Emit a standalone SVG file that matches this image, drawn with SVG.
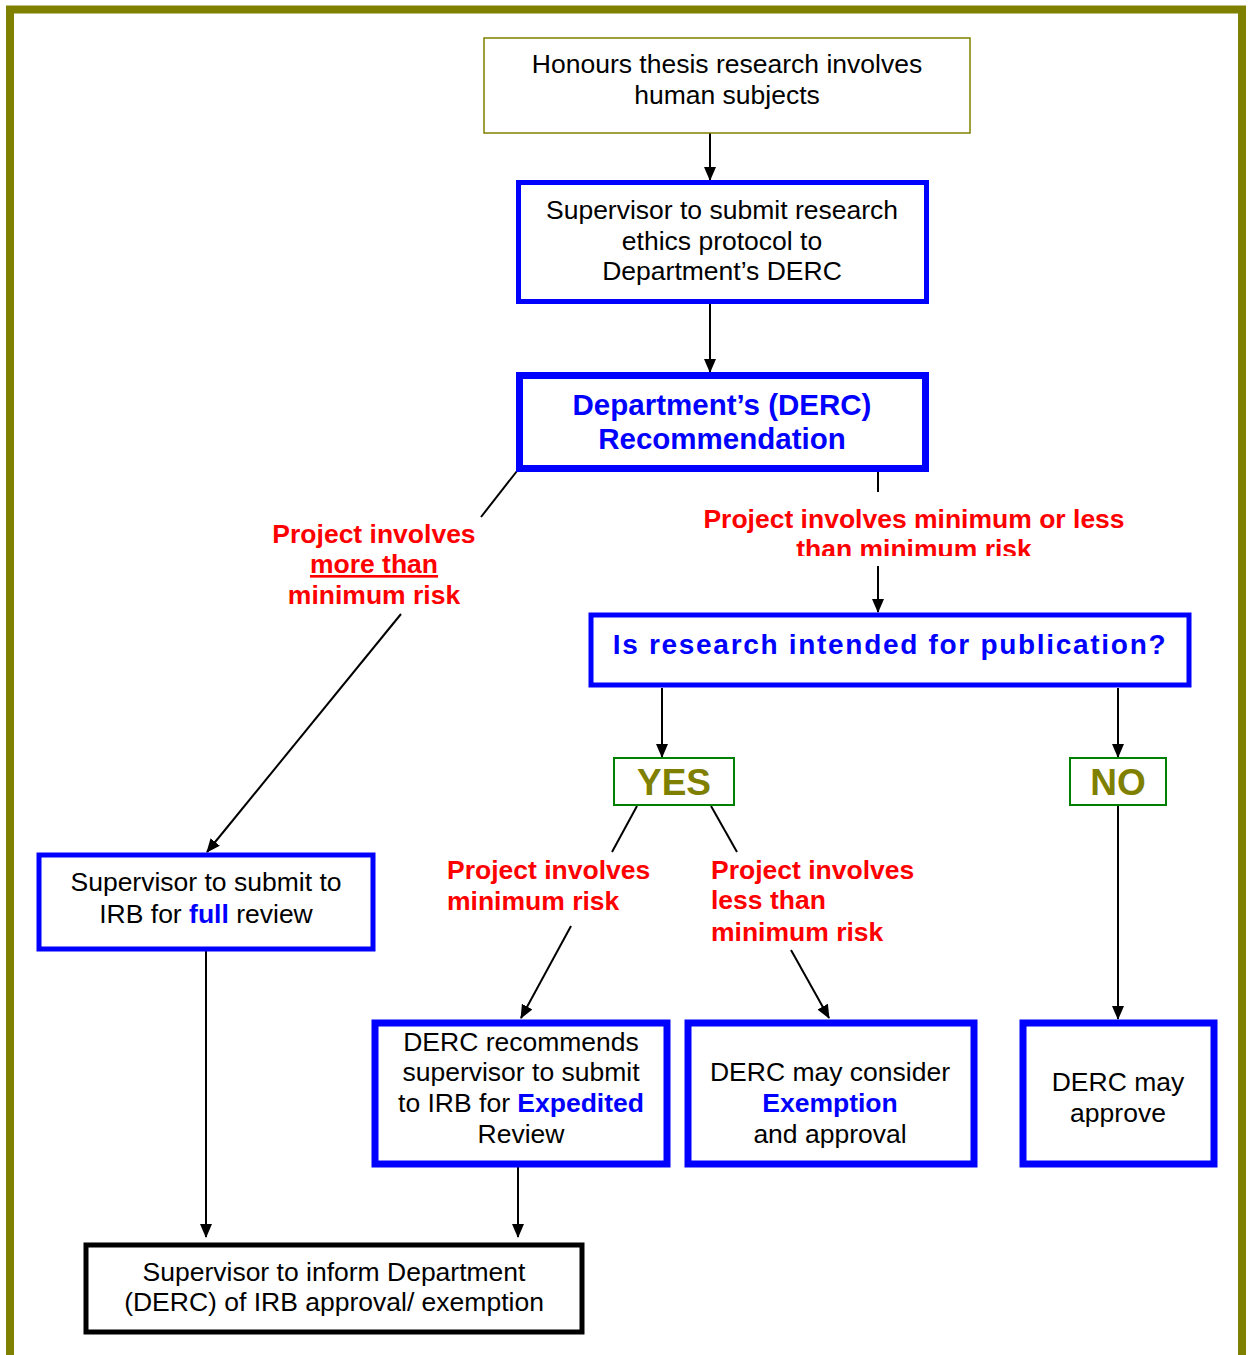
<svg xmlns="http://www.w3.org/2000/svg" width="1248" height="1355" viewBox="0 0 1248 1355">
<defs>
<marker id="ah" viewBox="0 0 14 12" markerWidth="14" markerHeight="12" refX="13" refY="6" orient="auto" markerUnits="userSpaceOnUse">
<path d="M0,0 L14,6 L0,12 Z" fill="#000"/>
</marker>
<clipPath id="clipLbl"><rect x="600" y="495" width="600" height="61"/></clipPath>
</defs>
<style>
text{font-family:"Liberation Sans",Arial,sans-serif;text-anchor:middle}
.t{font-size:26.5px;fill:#000}
.b{font-weight:bold;fill:#0000ff}
.r{font-size:26.5px;font-weight:bold;fill:#ff0000}
.l{text-anchor:start}
.bx{fill:#fff;stroke:#0000ff}
.c{stroke:#000;stroke-width:2;fill:none}
.ca{stroke:#000;stroke-width:2;fill:none;marker-end:url(#ah)}
.yn{fill:#fff;stroke:#008000;stroke-width:2}
.yt{font-size:37px;font-weight:bold;fill:#808000}
</style>
<rect width="1248" height="1355" fill="#fff"/>
<rect x="10" y="9.5" width="1232" height="1400" fill="none" stroke="#808000" stroke-width="8"/>

<g id="connectors">
<line class="ca" x1="710" y1="133" x2="710" y2="180"/>
<line class="ca" x1="710" y1="304" x2="710" y2="372"/>
<line class="c" x1="517" y1="471" x2="481" y2="517"/>
<line class="ca" x1="401" y1="614" x2="207" y2="852"/>
<line class="c" x1="878" y1="471" x2="878" y2="492"/>
<line class="ca" x1="878" y1="566" x2="878" y2="612"/>
<line class="ca" x1="662" y1="688" x2="662" y2="757"/>
<line class="ca" x1="1118" y1="688" x2="1118" y2="757"/>
<line class="c" x1="637" y1="806" x2="612" y2="852"/>
<line class="c" x1="711" y1="806" x2="737" y2="852"/>
<line class="ca" x1="571" y1="926" x2="521" y2="1018"/>
<line class="ca" x1="791" y1="950" x2="829" y2="1018"/>
<line class="ca" x1="1118" y1="806" x2="1118" y2="1019"/>
<line class="ca" x1="206" y1="951" x2="206" y2="1237"/>
<line class="ca" x1="518" y1="1167" x2="518" y2="1237"/>
</g>

<g id="labels">
<text class="r" x="374" y="543">Project involves</text>
<text class="r" x="374" y="573" text-decoration="underline">more than</text>
<text class="r" x="374" y="604">minimum risk</text>
<g clip-path="url(#clipLbl)">
<text class="r" x="914" y="528">Project involves minimum or less</text>
<text class="r" x="914" y="558">than minimum risk</text>
</g>
<text class="r l" x="447" y="879">Project involves</text>
<text class="r l" x="447" y="910">minimum risk</text>
<text class="r l" x="711" y="879">Project involves</text>
<text class="r l" x="711" y="909">less than</text>
<text class="r l" x="711" y="941">minimum risk</text>
</g>

<g id="n1">
<rect x="484" y="38" width="486" height="95" fill="#fff" stroke="#808000" stroke-width="1.5"/>
<text class="t" x="727" y="73">Honours thesis research involves</text>
<text class="t" x="727" y="104">human subjects</text>
</g>

<g id="n2">
<rect class="bx" x="518.5" y="182.5" width="408" height="119" stroke-width="5"/>
<text class="t" x="722" y="219">Supervisor to submit research</text>
<text class="t" x="722" y="250">ethics protocol to</text>
<text class="t" x="722" y="280">Department’s DERC</text>
</g>

<g id="n3">
<rect class="bx" x="519.5" y="375.5" width="406" height="93" stroke-width="7"/>
<text class="b" x="722" y="415" font-size="29.5">Department’s (DERC)</text>
<text class="b" x="722" y="449" font-size="29.5">Recommendation</text>
</g>

<g id="n4">
<rect class="bx" x="591" y="615" width="598" height="70" stroke-width="5"/>
<text class="b" x="890" y="654" font-size="28" letter-spacing="1.7">Is research intended for publication?</text>
</g>

<g id="yes">
<rect class="yn" x="614" y="758" width="120" height="47"/>
<text class="yt" x="674" y="795">YES</text>
</g>

<g id="no">
<rect class="yn" x="1070" y="758" width="96" height="47"/>
<text class="yt" x="1118" y="795">NO</text>
</g>

<g id="n5">
<rect class="bx" x="39" y="855" width="334" height="94" stroke-width="5"/>
<text class="t" x="206" y="891">Supervisor to submit to</text>
<text class="t" x="206" y="923">IRB for <tspan class="b">full</tspan> review</text>
</g>

<g id="n6">
<rect class="bx" x="375" y="1023" width="292" height="141" stroke-width="7"/>
<text class="t" x="521" y="1051">DERC recommends</text>
<text class="t" x="521" y="1081">supervisor to submit</text>
<text class="t" x="521" y="1112">to IRB for <tspan class="b">Expedited</tspan></text>
<text class="t" x="521" y="1143">Review</text>
</g>

<g id="n7">
<rect class="bx" x="688" y="1023" width="286" height="141" stroke-width="7"/>
<text class="t" x="830" y="1081">DERC may consider</text>
<text class="t b" x="830" y="1112">Exemption</text>
<text class="t" x="830" y="1143">and approval</text>
</g>

<g id="n8">
<rect class="bx" x="1023" y="1023" width="191" height="141" stroke-width="7"/>
<text class="t" x="1118" y="1091">DERC may</text>
<text class="t" x="1118" y="1122">approve</text>
</g>

<g id="n9">
<rect x="86" y="1245" width="496" height="87" fill="#fff" stroke="#000" stroke-width="5"/>
<text class="t" x="334" y="1281">Supervisor to inform Department</text>
<text class="t" x="334" y="1311">(DERC) of IRB approval/ exemption</text>
</g>
</svg>
